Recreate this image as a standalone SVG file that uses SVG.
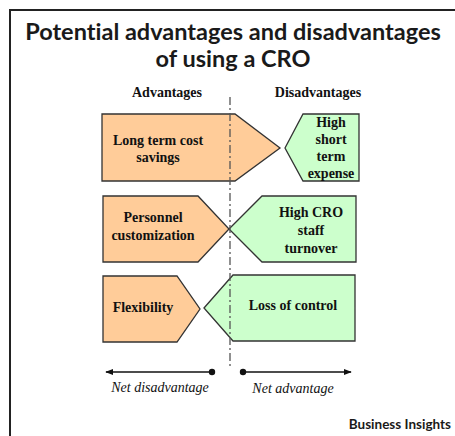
<svg xmlns="http://www.w3.org/2000/svg" width="455" height="436" viewBox="0 0 455 436">
  <defs>
    <style>
      .title { font-family: Lato, "Open Sans", sans-serif; font-weight: 700; font-size: 23.5px; fill: #1a1a1a; text-anchor: middle; font-variant-ligatures: none; }
      .head, .lbl { font-family: "Liberation Serif", "Times New Roman", Tinos, "DejaVu Serif", serif; font-weight: 700; font-size: 14px; fill: #111; text-anchor: middle; }
      .net { font-family: "Liberation Serif", "Times New Roman", Tinos, "DejaVu Serif", serif; font-style: italic; font-size: 14px; fill: #111; text-anchor: middle; }
      .src { font-family: Lato, "Open Sans", sans-serif; font-weight: 700; font-size: 13.5px; fill: #1a1a1a; text-anchor: end; }
      .adv { fill: #FFCC99; stroke: #333; stroke-width: 1.3; }
      .dis { fill: #CCFFCC; stroke: #333; stroke-width: 1.3; }
      .axis { stroke: #111; stroke-width: 1.6; fill: none; }
    </style>
    <marker id="head" viewBox="0 0 10 10" refX="9" refY="5" markerWidth="8" markerHeight="8" markerUnits="userSpaceOnUse" orient="auto-start-reverse">
      <path d="M0,1 L10,5 L0,9 z" fill="#111"/>
    </marker>
  </defs>

  <rect width="455" height="436" fill="#fff"/>

  <!-- frame -->
  <path d="M10,436 V10 H455" fill="none" stroke="#222" stroke-width="2"/>

  <text class="title" x="233" y="40">Potential advantages and disadvantages</text>
  <text class="title" x="233" y="67">of using a CRO</text>

  <text class="head" x="167" y="97">Advantages</text>
  <text class="head" x="318" y="97">Disadvantages</text>

  <!-- row 1 -->
  <g id="long-term-cost-savings">
    <polygon class="adv" points="102,114 235,114 280,148 235,181 102,181"/>
    <text class="lbl" x="158" y="145">Long term cost</text>
    <text class="lbl" x="158" y="162">savings</text>
  </g>
  <g id="high-short-term-expense">
    <polygon class="dis" points="285,148 303,114 359,114 359,181 303,181"/>
    <text class="lbl" x="331" y="127">High</text>
    <text class="lbl" x="331" y="144">short</text>
    <text class="lbl" x="331" y="161">term</text>
    <text class="lbl" x="331" y="178">expense</text>
  </g>

  <!-- row 2 -->
  <g id="personnel-customization">
    <polygon class="adv" points="103,196 198,196 229,229 198,262 103,262"/>
    <text class="lbl" x="153" y="222">Personnel</text>
    <text class="lbl" x="153" y="240">customization</text>
  </g>
  <g id="high-cro-staff-turnover">
    <polygon class="dis" points="229,229 262,196 356,196 356,262 262,262"/>
    <text class="lbl" x="311" y="217">High CRO</text>
    <text class="lbl" x="311" y="235">staff</text>
    <text class="lbl" x="311" y="253">turnover</text>
  </g>

  <!-- row 3 -->
  <g id="flexibility">
    <polygon class="adv" points="103,276 177,276 200,309 177,342 103,342"/>
    <text class="lbl" x="143" y="312">Flexibility</text>
  </g>
  <g id="loss-of-control">
    <polygon class="dis" points="204,308 233,275 355,275 355,341 233,341"/>
    <text class="lbl" x="293" y="310">Loss of control</text>
  </g>

  <!-- divider and net direction arrows -->
  <g id="connectors">
    <line x1="230" y1="97" x2="230" y2="366" stroke="#555" stroke-width="1.3" stroke-dasharray="8,3,2,3"/>
    <line class="axis" x1="212" y1="372" x2="106" y2="372" marker-end="url(#head)"/>
    <circle cx="212" cy="372" r="3.2" fill="#111"/>
    <line class="axis" x1="243" y1="372" x2="351" y2="372" marker-end="url(#head)"/>
    <circle cx="243" cy="372" r="3.2" fill="#111"/>
  </g>

  <text class="net" x="160" y="392">Net disadvantage</text>
  <text class="net" x="293" y="393">Net advantage</text>

  <text class="src" x="451" y="429">Business Insights</text>
</svg>
